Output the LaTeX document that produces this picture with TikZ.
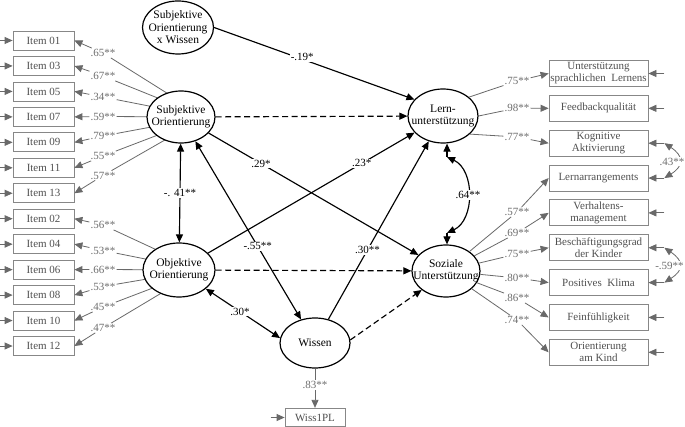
\documentclass[tikz,border=0pt]{standalone}
\usepackage{fontspec}
\setmainfont{Liberation Serif}
\usetikzlibrary{shapes.geometric,arrows.meta}
\definecolor{lnGray}{RGB}{105,105,105}
\definecolor{bxGray}{RGB}{135,135,135}
\definecolor{txGray}{RGB}{80,80,80}
\definecolor{lbGray}{RGB}{110,110,110}
\begin{document}
\begin{tikzpicture}[x=1pt,y=-1pt,
  font=\fontsize{11}{12}\selectfont,
  mylatent/.style={ellipse,draw=black,line width=1.2pt,fill=white,inner sep=0pt},
  mylattext/.style={align=center,font=\fontsize{11.5}{12.5}\selectfont},
  myind/.style={draw=bxGray,line width=0.8pt,minimum width=61pt,minimum height=19pt,inner sep=0pt,text=txGray},
  myrind/.style={draw=bxGray,line width=0.8pt,minimum width=99pt,minimum height=26pt,inner sep=0pt,text=txGray,align=center},
  myld/.style={text=lbGray,inner sep=1pt},
  mygline/.style={draw=lnGray,line width=0.8pt},
  mygarr/.style={mygline,-{Triangle[length=8pt,width=7pt]}},
  mygcov/.style={mygline,{Triangle[length=8pt,width=7pt]}-{Triangle[length=8pt,width=7pt]}},
  myspath/.style={draw=black,line width=1.15pt,-{Triangle[length=8pt,width=7pt]}},
  mydpath/.style={myspath,dash pattern=on 6pt off 3.5pt},
  mycov/.style={draw=black,line width=1.15pt,{Triangle[length=8pt,width=7pt]}-{Triangle[length=8pt,width=7pt]}},
  mycoef/.style={fill=white,inner sep=1pt},
]
\path[use as bounding box, fill=white] (0,0) rectangle (685,427);

% ---- left indicators
\node[myind] (i01) at (43.5,40.5) {Item 01};
\node[myind] (i03) at (43.5,65.96) {Item 03};
\node[myind] (i05) at (43.5,91.42) {Item 05};
\node[myind] (i07) at (43.5,116.88) {Item 07};
\node[myind] (i09) at (43.5,142.34) {Item 09};
\node[myind] (i11) at (43.5,167.8) {Item 11};
\node[myind] (i13) at (43.5,193.26) {Item 13};
\node[myind] (i02) at (43.5,218.72) {Item 02};
\node[myind] (i04) at (43.5,244.18) {Item 04};
\node[myind] (i06) at (43.5,269.64) {Item 06};
\node[myind] (i08) at (43.5,295.1) {Item 08};
\node[myind] (i10) at (43.5,320.56) {Item 10};
\node[myind] (i12) at (43.5,346.02) {Item 12};

\foreach \n in {01,03,05,07,09,11,13,02,04,06,08,10,12}{
  \coordinate (e\n) at ([xshift=-14pt]i\n.west);
  \draw[mygarr] (e\n) -- (i\n.west);
}

% loading labels left
\node[myld] (l01) at (103,53) {.65**};
\node[myld] (l03) at (103,76) {.67**};
\node[myld] (l05) at (103,97) {.34**};
\node[myld] (l07) at (103,116.5) {.59**};
\node[myld] (l09) at (103,136) {.79**};
\node[myld] (l11) at (103,156) {.55**};
\node[myld] (l13) at (103,175.5) {.57**};
\node[myld] (l02) at (103,225) {.56**};
\node[myld] (l04) at (103,250.5) {.53**};
\node[myld] (l06) at (103,269.5) {.66**};
\node[myld] (l08) at (103,286.5) {.53**};
\node[myld] (l10) at (103,307) {.45**};
\node[myld] (l12) at (103,328) {.47**};

\coordinate (hubS) at (205,117);
\coordinate (hubO) at (200,270);
\foreach \n in {01,03,05,07,09,11,13}{
  \draw[mygline] (hubS) -- (l\n);
  \draw[mygarr] (l\n) -- (i\n.east);
}
\foreach \n in {02,04,06,08,10,12}{
  \draw[mygline] (hubO) -- (l\n);
  \draw[mygarr] (l\n) -- (i\n.east);
}

% ---- latent variables
\node[mylatent, minimum width=71pt, minimum height=53pt,
  label={[mylattext]center:Subjektive\\Orientierung\\x Wissen}] (SOxW) at (178,27.5) {};
\node[mylatent, minimum width=68pt, minimum height=52pt,
  label={[mylattext]center:Subjektive\\Orientierung}] (SO) at (181,117) {};
\node[mylatent, minimum width=72pt, minimum height=54pt,
  label={[mylattext]center:Objektive\\Orientierung}] (OO) at (179,270) {};
\node[mylatent, minimum width=70pt, minimum height=50pt,
  label={[mylattext]center:Wissen}] (Wis) at (315,343) {};
\node[mylatent, minimum width=70pt, minimum height=54pt,
  label={[mylattext]center:Lern-\\unterstützung}] (Lern) at (443,116) {};
\node[mylatent, minimum width=68pt, minimum height=52pt,
  label={[mylattext]center:Soziale\\Unterstützung}] (Soz) at (446,271) {};

% ---- right indicators
\node[myrind] (r1) at (598.5,73.5) {Unterstützung\\sprachlichen\ \ Lernens};
\node[myrind] (r2) at (598.5,108.35) {Feedbackqualität};
\node[myrind] (r3) at (598.5,143.2) {Kognitive\\Aktivierung};
\node[myrind] (r4) at (598.5,178.05) {Lernarrangements};
\node[myrind] (r5) at (598.5,212.9) {Verhaltens-\\management};
\node[myrind] (r6) at (598.5,247.75) {Beschäftigungsgrad\\der Kinder};
\node[myrind] (r7) at (598.5,282.6) {Positives\ \ Klima};
\node[myrind] (r8) at (598.5,317.45) {Feinfühligkeit};
\node[myrind] (r9) at (598.5,352.3) {Orientierung\\am Kind};

\foreach \k in {1,...,9}{
  \coordinate (s\k) at ([xshift=16pt]r\k.east);
  \draw[mygarr] (s\k) -- (r\k.east);
}

\node[myld] (m1) at (517,81) {.75**};
\node[myld] (m2) at (517,108) {.98**};
\node[myld] (m3) at (517,137) {.77**};
\node[myld] (m4) at (517,212) {.57**};
\node[myld] (m5) at (517,233) {.69**};
\node[myld] (m6) at (517,254) {.75**};
\node[myld] (m7) at (517,278) {.80**};
\node[myld] (m8) at (517,298) {.86**};
\node[myld] (m9) at (517,320) {.74**};

\draw[mygline] (Lern.36) -- (m1);
\draw[mygline] (Lern.0) -- (m2);
\draw[mygline] (Lern.-34) -- (m3);
\foreach \k in {4,...,9}{\draw[mygline] (Soz) -- (m\k);}
\foreach \k in {1,...,9}{\draw[mygarr] (m\k) -- (r\k.west);}

% residual correlations right
\draw[mygcov] (s3) .. controls (684,156) and (684,166) .. (s4);
\node[myld, fill=white] (c43) at (672,161.5) {.43**};
\draw[mygcov] (s6) .. controls (684,261) and (684,270) .. (s7);
\node[myld, fill=white, inner sep=0.5pt] (c59) at (669.5,265.5) {-.59**};

% ---- Wiss1PL
\node[myind, minimum width=60pt, minimum height=18.5pt] (W1) at (315,417.5) {Wiss1PL};
\coordinate (ew) at ([xshift=-14pt]W1.west);
\draw[mygarr] (ew) -- (W1.west);
\node[myld] (l83) at (315,385) {.83**};
\draw[mygline] (Wis) -- (l83);
\draw[mygarr] (l83) -- (W1.north);

% ---- structural paths
\draw[myspath] (SOxW.east) -- (Lern.150) node[mycoef, pos=0.44, yshift=2pt] {-.19*};
\draw[mydpath] (SO) -- (Lern);
\draw[myspath] (SO) -- (Soz) node[mycoef, pos=0.25] {.29*};
\draw[myspath] (OO) -- (Lern) node[mycoef, pos=0.745] {.23*};
\draw[mydpath] (OO) -- (Soz);
\draw[mycov] (SO) -- (OO) node[mycoef, midway] {-. 41**};
\draw[mycov] (SO) -- (Wis) node[mycoef, pos=0.59] {-.55**};
\draw[mycov] (OO.-35) -- (Wis.172) node[mycoef, pos=0.46] {.30*};
\draw[myspath] (Wis) -- (Lern) node[mycoef, pos=0.39] {.30**};
\draw[mydpath] (Wis.5) -- (Soz.218);

% residuals of endogenous factors
\coordinate (LR) at (447,157);
\coordinate (SR) at (447,233);
\draw[myspath] (LR) -- (Lern.south -| LR);
\draw[myspath] (SR) -- (Soz.north -| SR);
\draw[mycov] (LR) .. controls (475,170) and (475,220) .. (SR) node[mycoef, pos=0.5] {.64**};
\end{tikzpicture}
\end{document}
